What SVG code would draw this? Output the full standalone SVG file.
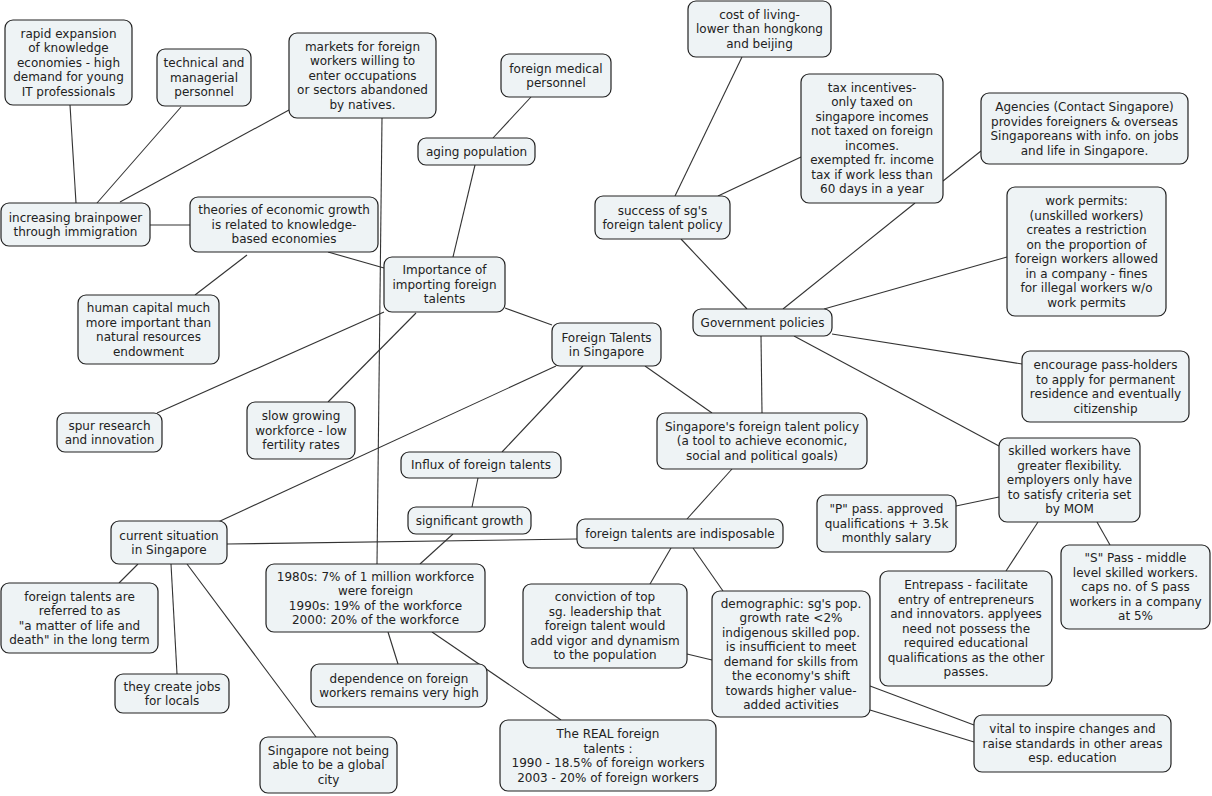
<svg xmlns="http://www.w3.org/2000/svg" width="1212" height="796" viewBox="0 0 1212 796">
<style>
.n rect{fill:#eef3f5;stroke:#222;stroke-width:1.2}
.n text{font-family:"DejaVu Sans",Verdana,sans-serif;font-size:12px;fill:#222;text-anchor:middle}
#connectors line{stroke:#333;stroke-width:1.1}
</style>
<rect width="1212" height="796" fill="#fff"/>
<g id="connectors">
<line x1="70" y1="105" x2="76" y2="203"/>
<line x1="181" y1="107" x2="97" y2="203"/>
<line x1="289" y1="110" x2="120" y2="202"/>
<line x1="150" y1="225" x2="190" y2="225"/>
<line x1="328" y1="252" x2="384" y2="268"/>
<line x1="247" y1="255" x2="195" y2="295"/>
<line x1="382" y1="118" x2="377" y2="564"/>
<line x1="475" y1="165" x2="453" y2="257"/>
<line x1="531" y1="97" x2="493" y2="138"/>
<line x1="505" y1="308" x2="552" y2="325"/>
<line x1="384" y1="312" x2="157" y2="413"/>
<line x1="416" y1="313" x2="328" y2="402"/>
<line x1="556" y1="366" x2="218" y2="522"/>
<line x1="583" y1="366" x2="502" y2="452"/>
<line x1="645" y1="366" x2="712" y2="413"/>
<line x1="761" y1="336" x2="762" y2="413"/>
<line x1="681" y1="239" x2="747" y2="309"/>
<line x1="742" y1="57" x2="675" y2="196"/>
<line x1="801" y1="157" x2="718" y2="196"/>
<line x1="915" y1="203" x2="783" y2="309"/>
<line x1="981" y1="151" x2="943" y2="181"/>
<line x1="1007" y1="257" x2="824" y2="309"/>
<line x1="832" y1="334" x2="1022" y2="364"/>
<line x1="794" y1="336" x2="999" y2="446"/>
<line x1="999" y1="497" x2="956" y2="506"/>
<line x1="1038" y1="522" x2="1006" y2="571"/>
<line x1="1097" y1="522" x2="1110" y2="545"/>
<line x1="478" y1="478" x2="472" y2="507"/>
<line x1="453" y1="534" x2="420" y2="564"/>
<line x1="732" y1="469" x2="687" y2="519"/>
<line x1="227" y1="544" x2="577" y2="539"/>
<line x1="138" y1="564" x2="119" y2="583"/>
<line x1="171" y1="564" x2="177" y2="674"/>
<line x1="187" y1="564" x2="316" y2="737"/>
<line x1="388" y1="632" x2="398" y2="664"/>
<line x1="432" y1="632" x2="561" y2="720"/>
<line x1="671" y1="548" x2="650" y2="584"/>
<line x1="693" y1="548" x2="723" y2="591"/>
<line x1="687" y1="654" x2="712" y2="660"/>
<line x1="870" y1="686" x2="974" y2="725"/>
<line x1="870" y1="710" x2="974" y2="742"/>
</g>
<g id="n1" class="n"><rect x="5" y="20" width="127" height="85" rx="8"/><text x="68.5" y="37.8"><tspan x="68.5">rapid expansion</tspan><tspan x="68.5" dy="14.5">of knowledge</tspan><tspan x="68.5" dy="14.5">economies - high</tspan><tspan x="68.5" dy="14.5">demand for young</tspan><tspan x="68.5" dy="14.5">IT professionals</tspan></text></g>
<g id="n2" class="n"><rect x="157" y="49" width="94" height="57" rx="8"/><text x="204" y="67.3"><tspan x="204">technical and</tspan><tspan x="204" dy="14.5">managerial</tspan><tspan x="204" dy="14.5">personnel</tspan></text></g>
<g id="n3" class="n"><rect x="289" y="33" width="147" height="85" rx="8"/><text x="362.5" y="50.8"><tspan x="362.5">markets for foreign</tspan><tspan x="362.5" dy="14.5">workers willing to</tspan><tspan x="362.5" dy="14.5">enter occupations</tspan><tspan x="362.5" dy="14.5">or sectors abandoned</tspan><tspan x="362.5" dy="14.5">by natives.</tspan></text></g>
<g id="n4" class="n"><rect x="1" y="203" width="149" height="43" rx="8"/><text x="75.5" y="221.5"><tspan x="75.5">increasing brainpower</tspan><tspan x="75.5" dy="14.5">through immigration</tspan></text></g>
<g id="n5" class="n"><rect x="190" y="197" width="188" height="55" rx="8"/><text x="284" y="214.3"><tspan x="284">theories of economic growth</tspan><tspan x="284" dy="14.5">is related to knowledge-</tspan><tspan x="284" dy="14.5">based economies</tspan></text></g>
<g id="n6" class="n"><rect x="501" y="54" width="110" height="43" rx="8"/><text x="556" y="72.5"><tspan x="556">foreign medical</tspan><tspan x="556" dy="14.5">personnel</tspan></text></g>
<g id="n7" class="n"><rect x="418" y="138" width="117" height="27" rx="8"/><text x="476.5" y="155.8">aging population</text></g>
<g id="n8" class="n"><rect x="688" y="1" width="143" height="56" rx="8"/><text x="759.5" y="18.8"><tspan x="759.5">cost of living-</tspan><tspan x="759.5" dy="14.5">lower than hongkong</tspan><tspan x="759.5" dy="14.5">and beijing</tspan></text></g>
<g id="n9" class="n"><rect x="801" y="74" width="142" height="129" rx="8"/><text x="872" y="91.5"><tspan x="872">tax incentives-</tspan><tspan x="872" dy="14.5">only taxed on</tspan><tspan x="872" dy="14.5">singapore incomes</tspan><tspan x="872" dy="14.5">not taxed on foreign</tspan><tspan x="872" dy="14.5">incomes.</tspan><tspan x="872" dy="14.5">exempted fr. income</tspan><tspan x="872" dy="14.5">tax if work less than</tspan><tspan x="872" dy="14.5">60 days in a year</tspan></text></g>
<g id="n10" class="n"><rect x="981" y="93" width="207" height="71" rx="8"/><text x="1084.5" y="111"><tspan x="1084.5">Agencies (Contact Singapore)</tspan><tspan x="1084.5" dy="14.5">provides foreigners &amp; overseas</tspan><tspan x="1084.5" dy="14.5">Singaporeans with info. on jobs</tspan><tspan x="1084.5" dy="14.5">and life in Singapore.</tspan></text></g>
<g id="n11" class="n"><rect x="1007" y="187" width="159" height="129" rx="8"/><text x="1086.5" y="205"><tspan x="1086.5">work permits:</tspan><tspan x="1086.5" dy="14.5">(unskilled workers)</tspan><tspan x="1086.5" dy="14.5">creates a restriction</tspan><tspan x="1086.5" dy="14.5">on the proportion of</tspan><tspan x="1086.5" dy="14.5">foreign workers allowed</tspan><tspan x="1086.5" dy="14.5">in a company - fines</tspan><tspan x="1086.5" dy="14.5">for illegal workers w/o</tspan><tspan x="1086.5" dy="14.5">work permits</tspan></text></g>
<g id="n12" class="n"><rect x="595" y="196" width="135" height="43" rx="8"/><text x="662.5" y="214.5"><tspan x="662.5">success of sg's</tspan><tspan x="662.5" dy="14.5">foreign talent policy</tspan></text></g>
<g id="n13" class="n"><rect x="693" y="309" width="139" height="27" rx="8"/><text x="762.5" y="326.8">Government policies</text></g>
<g id="n14" class="n"><rect x="384" y="257" width="121" height="55" rx="8"/><text x="444.5" y="274.3"><tspan x="444.5">Importance of</tspan><tspan x="444.5" dy="14.5">importing foreign</tspan><tspan x="444.5" dy="14.5">talents</tspan></text></g>
<g id="n15" class="n"><rect x="552" y="323" width="109" height="43" rx="8"/><text x="606.5" y="341.5"><tspan x="606.5">Foreign Talents</tspan><tspan x="606.5" dy="14.5">in Singapore</tspan></text></g>
<g id="n16" class="n"><rect x="78" y="295" width="141" height="69" rx="8"/><text x="148.5" y="312"><tspan x="148.5">human capital much</tspan><tspan x="148.5" dy="14.5">more important than</tspan><tspan x="148.5" dy="14.5">natural resources</tspan><tspan x="148.5" dy="14.5">endowment</tspan></text></g>
<g id="n17" class="n"><rect x="57" y="413" width="105" height="39" rx="8"/><text x="109.5" y="429.5"><tspan x="109.5">spur research</tspan><tspan x="109.5" dy="14.5">and innovation</tspan></text></g>
<g id="n18" class="n"><rect x="247" y="402" width="108" height="57" rx="8"/><text x="301" y="420.3"><tspan x="301">slow growing</tspan><tspan x="301" dy="14.5">workforce - low</tspan><tspan x="301" dy="14.5">fertility rates</tspan></text></g>
<g id="n19" class="n"><rect x="657" y="413" width="210" height="56" rx="8"/><text x="762" y="430.8"><tspan x="762">Singapore's foreign talent policy</tspan><tspan x="762" dy="14.5">(a tool to achieve economic,</tspan><tspan x="762" dy="14.5">social and political goals)</tspan></text></g>
<g id="n20" class="n"><rect x="1022" y="351" width="167" height="71" rx="8"/><text x="1105.5" y="369"><tspan x="1105.5">encourage pass-holders</tspan><tspan x="1105.5" dy="14.5">to apply for permanent</tspan><tspan x="1105.5" dy="14.5">residence and eventually</tspan><tspan x="1105.5" dy="14.5">citizenship</tspan></text></g>
<g id="n21" class="n"><rect x="999" y="438" width="141" height="84" rx="8"/><text x="1069.5" y="455.3"><tspan x="1069.5">skilled workers have</tspan><tspan x="1069.5" dy="14.5">greater flexibility.</tspan><tspan x="1069.5" dy="14.5">employers only have</tspan><tspan x="1069.5" dy="14.5">to satisfy criteria set</tspan><tspan x="1069.5" dy="14.5">by MOM</tspan></text></g>
<g id="n22" class="n"><rect x="401" y="452" width="160" height="26" rx="8"/><text x="481" y="469.3">Influx of foreign talents</text></g>
<g id="n23" class="n"><rect x="408" y="507" width="123" height="27" rx="8"/><text x="469.5" y="524.8">significant growth</text></g>
<g id="n24" class="n"><rect x="111" y="521" width="116" height="43" rx="8"/><text x="169" y="539.5"><tspan x="169">current situation</tspan><tspan x="169" dy="14.5">in Singapore</tspan></text></g>
<g id="n25" class="n"><rect x="577" y="519" width="206" height="29" rx="8"/><text x="680" y="537.8">foreign talents are indisposable</text></g>
<g id="n26" class="n"><rect x="817" y="495" width="139" height="57" rx="8"/><text x="886.5" y="513.3"><tspan x="886.5">"P" pass. approved</tspan><tspan x="886.5" dy="14.5">qualifications + 3.5k</tspan><tspan x="886.5" dy="14.5">monthly salary</tspan></text></g>
<g id="n27" class="n"><rect x="266" y="564" width="219" height="68" rx="8"/><text x="375.5" y="580.5"><tspan x="375.5">1980s: 7% of 1 million workforce</tspan><tspan x="375.5" dy="14.5">were foreign</tspan><tspan x="375.5" dy="14.5">1990s: 19% of the workforce</tspan><tspan x="375.5" dy="14.5">2000: 20% of the workforce</tspan></text></g>
<g id="n28" class="n"><rect x="1" y="583" width="157" height="70" rx="8"/><text x="79.5" y="600.5"><tspan x="79.5">foreign talents are</tspan><tspan x="79.5" dy="14.5">referred to as</tspan><tspan x="79.5" dy="14.5">"a matter of life and</tspan><tspan x="79.5" dy="14.5">death" in the long term</tspan></text></g>
<g id="n29" class="n"><rect x="523" y="584" width="164" height="84" rx="8"/><text x="605" y="601.3"><tspan x="605">conviction of top</tspan><tspan x="605" dy="14.5">sg. leadership that</tspan><tspan x="605" dy="14.5">foreign talent would</tspan><tspan x="605" dy="14.5">add vigor and dynamism</tspan><tspan x="605" dy="14.5">to the population</tspan></text></g>
<g id="n30" class="n"><rect x="712" y="591" width="158" height="126" rx="8"/><text x="791" y="607.5"><tspan x="791">demographic: sg's pop.</tspan><tspan x="791" dy="14.5">growth rate &lt;2%</tspan><tspan x="791" dy="14.5">indigenous skilled pop.</tspan><tspan x="791" dy="14.5">is insufficient to meet</tspan><tspan x="791" dy="14.5">demand for skills from</tspan><tspan x="791" dy="14.5">the economy's shift</tspan><tspan x="791" dy="14.5">towards higher value-</tspan><tspan x="791" dy="14.5">added activities</tspan></text></g>
<g id="n31" class="n"><rect x="880" y="571" width="172" height="115" rx="8"/><text x="966" y="589.3"><tspan x="966">Entrepass - facilitate</tspan><tspan x="966" dy="14.5">entry of entrepreneurs</tspan><tspan x="966" dy="14.5">and innovators. applyees</tspan><tspan x="966" dy="14.5">need not possess the</tspan><tspan x="966" dy="14.5">required educational</tspan><tspan x="966" dy="14.5">qualifications as the other</tspan><tspan x="966" dy="14.5">passes.</tspan></text></g>
<g id="n32" class="n"><rect x="1061" y="545" width="149" height="84" rx="8"/><text x="1135.5" y="562.3"><tspan x="1135.5">"S" Pass - middle</tspan><tspan x="1135.5" dy="14.5">level skilled workers.</tspan><tspan x="1135.5" dy="14.5">caps no. of S pass</tspan><tspan x="1135.5" dy="14.5">workers in a company</tspan><tspan x="1135.5" dy="14.5">at 5%</tspan></text></g>
<g id="n33" class="n"><rect x="311" y="664" width="176" height="43" rx="8"/><text x="399" y="682.5"><tspan x="399">dependence on foreign</tspan><tspan x="399" dy="14.5">workers remains very high</tspan></text></g>
<g id="n34" class="n"><rect x="115" y="674" width="114" height="39" rx="8"/><text x="172" y="690.5"><tspan x="172">they create jobs</tspan><tspan x="172" dy="14.5">for locals</tspan></text></g>
<g id="n35" class="n"><rect x="260" y="737" width="137" height="56" rx="8"/><text x="328.5" y="754.8"><tspan x="328.5">Singapore not being</tspan><tspan x="328.5" dy="14.5">able to be a global</tspan><tspan x="328.5" dy="14.5">city</tspan></text></g>
<g id="n36" class="n"><rect x="500" y="720" width="216" height="71" rx="8"/><text x="608" y="738"><tspan x="608">The REAL foreign</tspan><tspan x="608" dy="14.5">talents :</tspan><tspan x="608" dy="14.5">1990 - 18.5% of foreign workers</tspan><tspan x="608" dy="14.5">2003 - 20% of foreign workers</tspan></text></g>
<g id="n37" class="n"><rect x="974" y="715" width="197" height="57" rx="8"/><text x="1072.5" y="733.3"><tspan x="1072.5">vital to inspire changes and</tspan><tspan x="1072.5" dy="14.5">raise standards in other areas</tspan><tspan x="1072.5" dy="14.5">esp. education</tspan></text></g>
</svg>
